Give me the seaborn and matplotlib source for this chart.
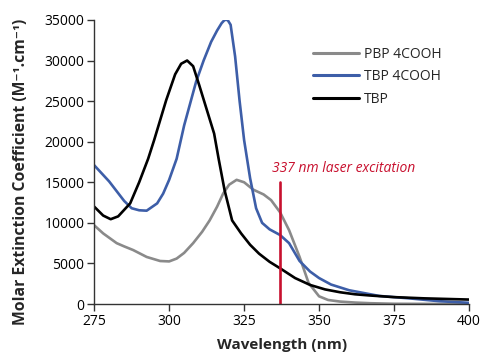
import pandas as pd
import matplotlib
matplotlib.use("Agg")
import matplotlib.pyplot as plt
import seaborn as sns

# ---- data ----
pbp_wl = [275, 278, 282.5, 285, 288, 292.5, 297, 300, 302.5, 305, 308, 311, 313.5, 316, 318, 320,
          322.5, 325, 328, 331.5, 334, 337, 340, 343.5, 346.5, 350, 353, 357, 362, 367, 375, 400]
pbp_eps = [9700, 8700, 7500, 7100, 6650, 5800, 5300, 5250, 5600, 6300, 7500, 8900, 10300, 12000, 13600, 14700,
           15300, 15000, 14100, 13500, 12800, 11300, 9100, 5800, 2600, 950, 500, 300, 180, 100, 30, 0]

tbp4_wl = [275, 280, 285, 287.5, 290, 292.5, 296, 298, 300, 302.5, 305, 307, 309, 311.5, 314, 316,
           317.5, 318.5, 319.5, 320.5, 322, 323.5, 325, 327, 329, 331, 333.5, 337, 340, 343.5, 347, 350, 354,
           360, 370, 380, 390, 400]
tbp4_eps = [17100, 15100, 12700, 11800, 11550, 11500, 12400, 13600, 15300, 17900, 22000, 24700, 27400, 30000, 32300, 33700,
            34600, 35000, 35000, 34400, 30500, 25000, 20200, 15500, 11800, 10000, 9200, 8500, 7500, 5300, 4000, 3200, 2400,
            1700, 1000, 700, 350, 150]

tbp_wl = [275, 278, 280.5, 283, 287, 290, 293, 295, 299, 302, 304, 306, 308, 310, 312.5, 315,
          316.5, 318.5, 321, 324, 327, 330, 333.5, 337, 342, 347, 352, 357, 362, 367, 375, 385, 400]
tbp_eps = [12000, 10900, 10450, 10800, 12400, 15000, 17900, 20200, 25100, 28300, 29600, 30000, 29300, 27000, 24000, 21000,
           17900, 14000, 10300, 8700, 7300, 6200, 5200, 4400, 3200, 2350, 1800, 1450, 1200, 1050, 850, 700, 550]

labels = ["PBP 4COOH", "TBP 4COOH", "TBP"]
colors = ["#8a8a8a", "#3d5ea8", "#000000"]
laser_wl = 337
laser_top = 15000

df = pd.concat([
    pd.DataFrame({"wl": pbp_wl, "eps": pbp_eps, "series": labels[0]}),
    pd.DataFrame({"wl": tbp4_wl, "eps": tbp4_eps, "series": labels[1]}),
    pd.DataFrame({"wl": tbp_wl, "eps": tbp_eps, "series": labels[2]}),
])

sns.set_style("ticks")
plt.rcParams["font.family"] = ["Open Sans", "DejaVu Sans"]

fig = plt.figure(figsize=(4.83, 3.56), dpi=100)
ax = fig.add_axes([0.195, 0.146, 0.776, 0.798])

sns.lineplot(data=df, x="wl", y="eps", hue="series", hue_order=labels,
             palette=dict(zip(labels, colors)), estimator=None, sort=True,
             linewidth=1.9, ax=ax)

ax.plot([laser_wl, laser_wl], [0, laser_top], color="#c8102e", linewidth=1.9)
ax.text(laser_wl - 2.7, laser_top + 1300, "337 nm laser excitation", color="#c8102e",
        fontstyle="italic", fontsize=10)

ax.set_xlim(275, 400)
ax.set_ylim(0, 35000)
ax.set_xticks([275, 300, 325, 350, 375, 400])
ax.set_yticks(range(0, 35001, 5000))
ax.tick_params(direction="out", length=5, width=1, labelsize=10, colors="#333333", labelcolor="black", pad=2)
for s in ["left", "bottom"]:
    ax.spines[s].set_color("#333333")
    ax.spines[s].set_linewidth(1)
sns.despine(ax=ax)

ax.set_xlabel("Wavelength (nm)", fontsize=11, fontweight="bold", labelpad=7)
ax.set_ylabel("Molar Extinction Coefficient (M\u207b\u00b9.cm\u207b\u00b9)", fontsize=11.3,
              fontweight="bold")
ax.yaxis.set_label_coords(-0.175, 0.465)

leg = ax.legend(loc="upper left", bbox_to_anchor=(0.55, 0.95), frameon=False,
                fontsize=10, handlelength=3.3, handletextpad=0.4, labelspacing=0.55)
for line in leg.get_lines():
    line.set_linewidth(2.2)

fig.savefig("out.png", dpi=100)
